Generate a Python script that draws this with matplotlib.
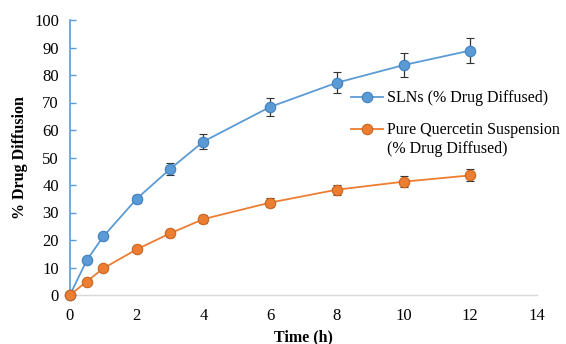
import matplotlib
matplotlib.use("Agg")
import matplotlib.pyplot as plt
from matplotlib.legend_handler import HandlerLine2D
import numpy as np

time_h = [0, 0.5, 1, 2, 3, 4, 6, 8, 10, 12]
sln_vals = [0, 12.6, 21.3, 35.0, 45.8, 55.8, 68.4, 77.2, 83.6, 88.9]
sln_err = [0, 0.8, 1.0, 1.5, 2.3, 2.8, 3.3, 3.8, 4.3, 4.6]
pqs_vals = [0, 4.9, 9.7, 16.6, 22.4, 27.6, 33.6, 38.3, 41.2, 43.5]
pqs_err = [0, 0.5, 0.7, 1.0, 1.2, 1.4, 1.5, 1.8, 2.0, 2.2]
sln_label = "SLNs (% Drug Diffused)"
pqs_label = "Pure Quercetin Suspension\n(% Drug Diffused)"
x_ticks = [0, 2, 4, 6, 8, 10, 12, 14]
y_ticks = [0, 10, 20, 30, 40, 50, 60, 70, 80, 90, 100]

plt.rcParams['font.family'] = ['Liberation Serif', 'DejaVu Serif']

blue = '#5b9bd5'
orange = '#ed7d31'


class ShiftedHandler(HandlerLine2D):
    def __init__(self, shift=0.0, **kw):
        super().__init__(**kw)
        self.shift = shift

    def create_artists(self, legend, orig_handle, xdescent, ydescent, width,
                       height, fontsize, trans):
        arts = super().create_artists(legend, orig_handle, xdescent, ydescent,
                                      width, height, fontsize, trans)
        for a in arts:
            y = np.asarray(a.get_ydata(), dtype=float)
            a.set_ydata(y + self.shift)
        return arts


fig = plt.figure(figsize=(5.66, 3.44), dpi=100)
ax = fig.add_axes([70/566, 1-295/344, (537-70)/566, (295-20)/344])

ax.errorbar(time_h, sln_vals, yerr=sln_err, color=blue, lw=1.3, marker='o', ms=7.5,
            mfc=blue, mec='#3f7fbf', mew=0.8, ecolor='#333333', elinewidth=0.9,
            capsize=3, capthick=0.9, label=sln_label, zorder=3)
ax.errorbar(time_h, pqs_vals, yerr=pqs_err, color=orange, lw=1.3, marker='o', ms=7.5,
            mfc=orange, mec='#c8641f', mew=0.8, ecolor='#333333', elinewidth=0.9,
            capsize=3, capthick=0.9, label=pqs_label, zorder=3)

ax.set_xlim(0, 14)
ax.set_ylim(0, 100)
ax.set_xticks(x_ticks)
ax.set_yticks(y_ticks)
for s in ['top', 'right']:
    ax.spines[s].set_visible(False)
ax.spines['left'].set_color(blue)
ax.spines['left'].set_linewidth(1.2)
ax.spines['bottom'].set_color('#d9d9d9')
ax.spines['bottom'].set_linewidth(1.0)
ax.tick_params(axis='y', direction='in', length=4, color=blue, width=1.0, labelsize=12, pad=8)
ax.tick_params(axis='x', length=0, labelsize=12, pad=9)
for sp in ax.spines.values():
    sp.set_zorder(0.5)
for art in ax.get_children():
    try:
        art.set_clip_on(False)
    except Exception:
        pass

ax.set_xlabel('Time (h)', fontsize=11.5, fontweight='bold', labelpad=4)
ax.set_ylabel('% Drug Diffusion', fontsize=11.5, fontweight='bold', labelpad=4)

h, l = ax.get_legend_handles_labels()
h = [hh[0] for hh in h]
leg = ax.legend(h, l, loc='upper left', bbox_to_anchor=(345/566, 1-84/344),
                bbox_transform=fig.transFigure, frameon=False, fontsize=11.5,
                handlelength=2.0, handletextpad=0.2, labelspacing=0.95, borderaxespad=0,
                handler_map={h[1]: ShiftedHandler(shift=7.5)})
for t in leg.get_texts():
    t.set_linespacing(1.3)

fig.savefig('out.png', dpi=100)
